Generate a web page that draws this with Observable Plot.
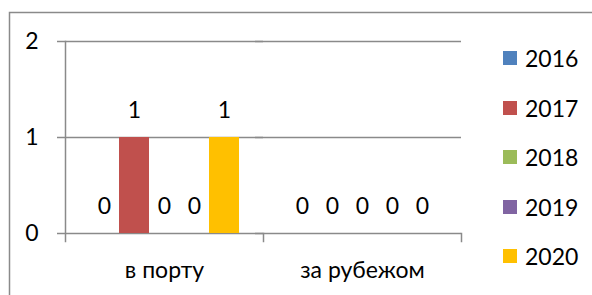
<!DOCTYPE html>
<html>
<head>
<meta charset="utf-8">
<script src="https://cdn.jsdelivr.net/npm/d3@7"></script>
<script src="https://cdn.jsdelivr.net/npm/@observablehq/plot@0.6"></script>
<style>
  html, body { margin: 0; padding: 0; background: white; overflow: hidden; }
  #wrap { position: relative; width: 592px; height: 295px; overflow: hidden; font-family: Lato, sans-serif; }
  #chart { position: absolute; left: 0; top: 0; }
  #frame { position: absolute; left: 0; top: 0; pointer-events: none; }
  .legend-item { position: absolute; left: 503px; height: 30px; display: flex; align-items: center; font-size: 23px; color: #000; }
  .legend-item .sw { width: 14px; height: 14px; margin-right: 8px; }
</style>
</head>
<body>
<div id="wrap">
  <div id="chart"></div>
  <div id="legend"></div>
  <svg id="frame" width="592" height="295"><path d="M9.5,295V12.5H592" fill="none" stroke="#8a8a8a" stroke-width="1.5"/></svg>
</div>
<script>
const categories = ["в порту", "за рубежом"];
const years = ["2016", "2017", "2018", "2019", "2020"];
const portValues = [0, 1, 0, 0, 1];
const abroadValues = [0, 0, 0, 0, 0];
const colors = ["#4F81BD", "#C0504D", "#9BBB59", "#8064A2", "#FFC000"];
const yTicks = [0, 1, 2];

const seriesByCategory = [portValues, abroadValues];
const data = categories.flatMap((c, i) =>
  years.map((yr, j) => ({category: c, year: yr, value: seriesByCategory[i][j]}))
);

const grid = "#8a8a8a";
const fs = 23;
const plot = Plot.plot({
  width: 592,
  height: 295,
  marginLeft: 64,
  marginRight: 131,
  marginTop: 41,
  marginBottom: 62,
  style: {fontFamily: "Lato, sans-serif", fontSize: fs + "px", background: "transparent", color: "black"},
  fx: {domain: categories, padding: 0, label: null},
  x: {domain: years, paddingInner: 0, paddingOuter: 0.71, axis: null},
  y: {domain: [0, 2], axis: null},
  color: {domain: years, range: colors},
  marks: [
    Plot.ruleY(yTicks, {stroke: grid, strokeWidth: 1.5, insetLeft: -8}),
    Plot.frame({anchor: "left", facetAnchor: "left", stroke: grid, strokeWidth: 1.5, insetBottom: -8}),
    Plot.frame({anchor: "right", stroke: grid, strokeWidth: 1.5, insetTop: 192, insetBottom: -8}),
    Plot.barY(data, {fx: "category", x: "year", y: "value", fill: "year"}),
    Plot.text(data, {fx: "category", x: "year", y: "value", text: d => String(d.value), dy: -27, fill: "black", fontSize: fs}),
    Plot.axisY({ticks: yTicks, tickFormat: d => String(d), tickSize: 0, tickPadding: 27, label: null, fontSize: fs, fill: "black"}),
    Plot.axisFx({anchor: "bottom", tickSize: 0, tickPadding: 28, label: null, fontSize: fs, fill: "black"})
  ]
});
document.getElementById("chart").appendChild(plot);

const legendYs = [58, 107.5, 157, 206.5, 256];
const legend = document.getElementById("legend");
years.forEach((yr, i) => {
  const item = document.createElement("div");
  item.className = "legend-item";
  item.style.top = (legendYs[i] - 15) + "px";
  const sw = document.createElement("div");
  sw.className = "sw";
  sw.style.background = colors[i];
  const t = document.createElement("span");
  t.textContent = yr;
  item.appendChild(sw);
  item.appendChild(t);
  legend.appendChild(item);
});
</script>
</body>
</html>
